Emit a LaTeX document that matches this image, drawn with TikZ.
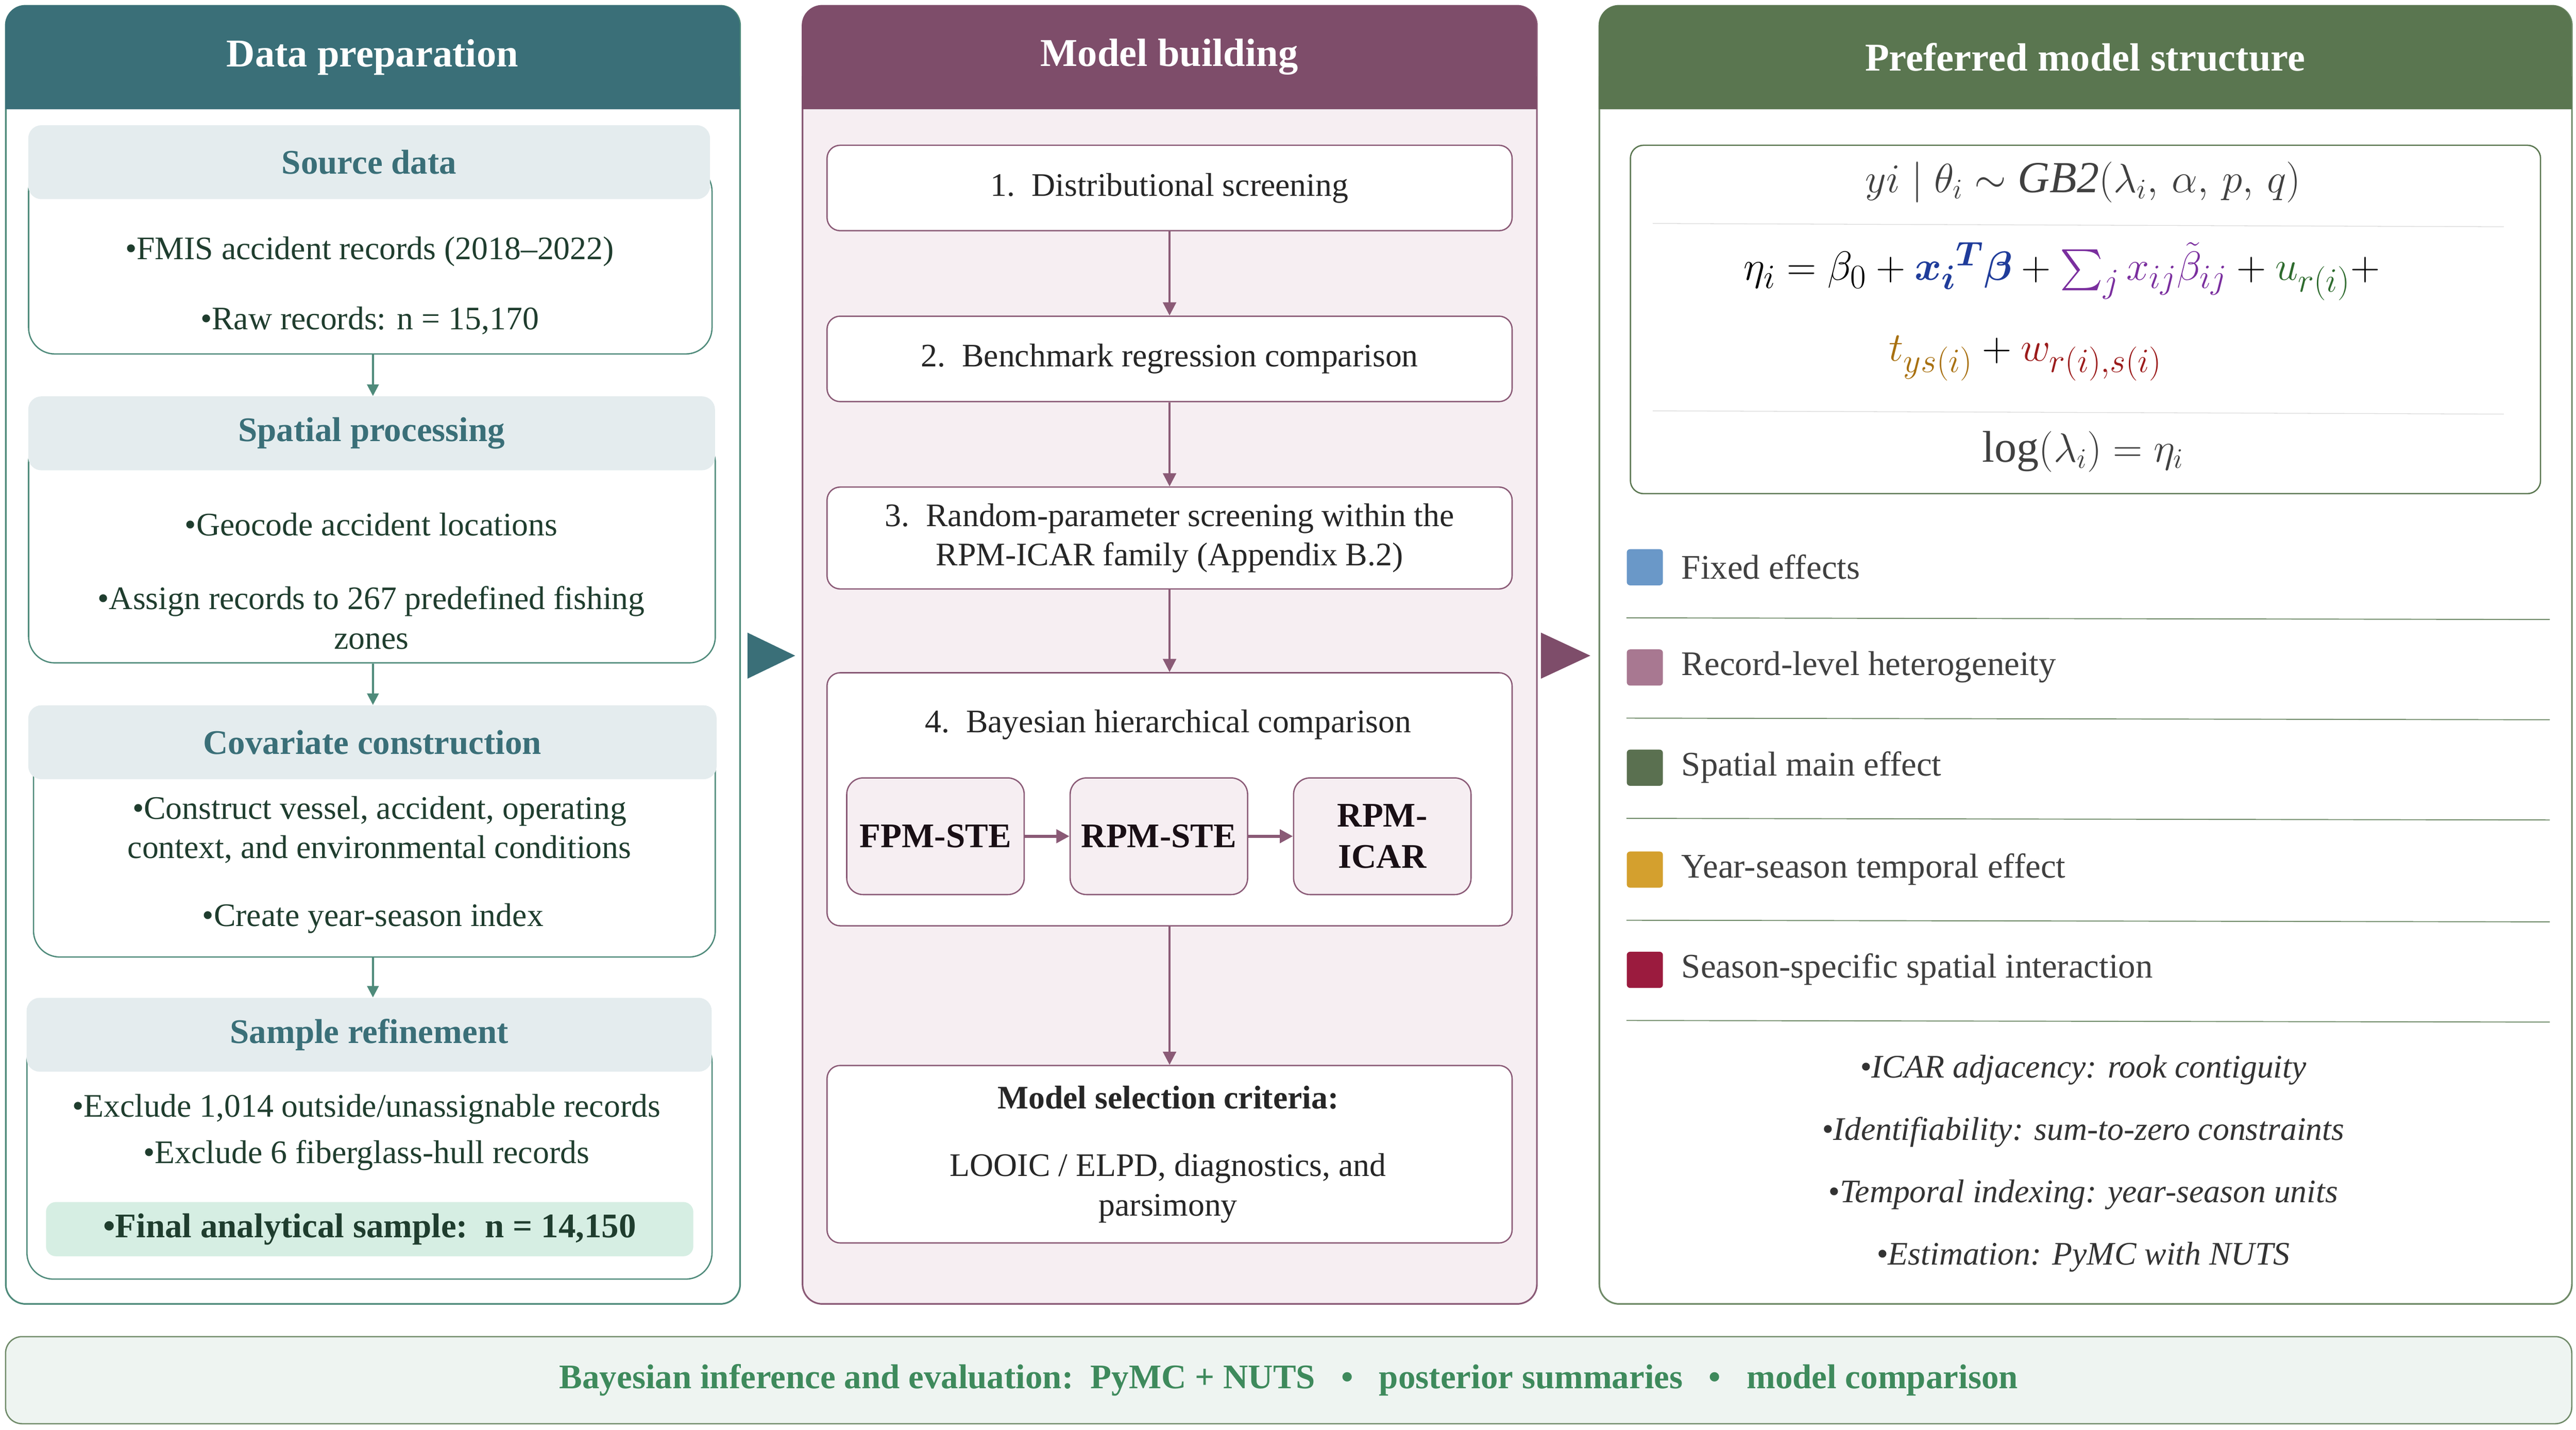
\documentclass[tikz,border=0pt]{standalone}
\usepackage{fontspec}
\setmainfont{Liberation Serif}
\usepackage{amsmath}
\usetikzlibrary{arrows.meta,positioning,calc}
\definecolor{tealhead}{HTML}{3A6F78}
\definecolor{tealline}{HTML}{4E8A7A}
\definecolor{tealband}{HTML}{E4ECEE}
\definecolor{plumhead}{HTML}{7E4D6A}
\definecolor{plumfill}{HTML}{F6EEF2}
\definecolor{plumline}{HTML}{8A5A76}
\definecolor{greenhead}{HTML}{5A7650}
\definecolor{greenline}{HTML}{6F8A68}
\definecolor{finalfill}{HTML}{D6EEE3}
\definecolor{darkgreen}{HTML}{1F3D2E}
\definecolor{bartext}{HTML}{3E8A5C}
\definecolor{barfill}{HTML}{EEF4F1}
\definecolor{fixc}{HTML}{6A98C8}
\definecolor{recc}{HTML}{A87891}
\definecolor{spac}{HTML}{5A7050}
\definecolor{yrc}{HTML}{D4A02E}
\definecolor{ssc}{HTML}{9B1B3E}
\definecolor{mblue}{HTML}{1F3C9A}
\definecolor{mpurple}{HTML}{7A2E9E}
\definecolor{mgreen}{HTML}{2E6B2E}
\definecolor{mbrown}{HTML}{A8700F}
\definecolor{mred}{HTML}{9B1B1B}
\newcommand{\fs}[1]{\fontsize{#1pt}{\dimexpr #1pt*6/5\relax}\selectfont}
\tikzset{
  panel/.style={draw=#1, line width=1pt, rounded corners=12pt, anchor=north west},
  head/.style={fill=#1, rounded corners=12pt, anchor=north west, text=white, font=\fs{24}\bfseries},
  band/.style={fill=tealband, rounded corners=8pt, anchor=north west, text=tealhead, font=\fs{21}\bfseries, minimum height=45pt},
  subbox/.style={draw=tealline, line width=0.8pt, rounded corners=16pt, anchor=north west},
  body/.style={font=\fs{20}, text=darkgreen, align=center},
  stepbox/.style={draw=plumline, fill=white, line width=0.8pt, rounded corners=8pt, anchor=north west, font=\fs{20}, align=center, text=black!85},
  modelbox/.style={draw=plumline, fill=plumfill, line width=0.8pt, rounded corners=10pt, minimum width=108pt, minimum height=71pt, anchor=north west, font=\fs{21}\bfseries, align=center, text=black!80!plumhead, inner sep=1pt},
  tealarrow/.style={-{Triangle[length=7pt,width=7pt]}, line width=1.2pt, draw=tealline},
  plumarrow/.style={-{Triangle[length=8pt,width=8pt]}, line width=1.2pt, draw=plumline},
  legsq/.style={rounded corners=2pt, minimum size=22pt, inner sep=0pt, anchor=north west, fill=#1},
  legtext/.style={anchor=west, font=\fs{21}, text=black!75},
  sep/.style={draw=greenline, line width=0.6pt},
  note/.style={font=\fs{20}\itshape, text=black!80}
}
\begin{document}
\begin{tikzpicture}[x=1pt, y=-1pt]
\useasboundingbox (0,0) rectangle (1568,870);

% panels
\node[panel=tealline, minimum width=447pt, minimum height=790pt] (dp) at (3,3) {};
\node[panel=plumline, fill=plumfill, minimum width=447pt, minimum height=790pt] (mb) at (488,3) {};
\node[panel=greenline, minimum width=592pt, minimum height=790pt] (pm) at (973,3) {};
\foreach \p/\c/\w/\t in {dp/tealhead/447/Data preparation, mb/plumhead/447/Model building, pm/greenhead/592/Preferred model structure}{
  \node[head=\c, minimum width=\w pt, minimum height=63pt] (\p h) at (\p.north west) {\t};
  \fill[\c] ($(\p h.south west)+(0,-20)$) rectangle (\p h.south east);
}

% data preparation
\node[subbox, minimum width=416pt, minimum height=115pt] (srcb) at (17,100) {};
\node[band, minimum width=415pt] (src) at (17,76) {Source data};
\node[body] (s1) at (225,153) {•FMIS accident records (2018–2022)};
\node[body] (s2) at (225,195) {•Raw records: n = 15,170};

\node[subbox, minimum width=418pt, minimum height=138pt] (spb) at (17,265) {};
\node[band, minimum width=418pt] (sp) at (17,241) {Spatial processing};
\node[body] (p1) at (226,319) {•Geocode accident locations};
\node[body] (p2) at (226,376) {•Assign records to 267 predefined fishing\\zones};

\node[subbox, minimum width=415pt, minimum height=131pt] (cvb) at (20,451) {};
\node[band, minimum width=419pt] (cv) at (17,429) {Covariate construction};
\node[body] (c1) at (231,505) {•Construct vessel, accident, operating\\context, and environmental conditions};
\node[body] (c2) at (227,559) {•Create year-season index};

\node[subbox, minimum width=417pt, minimum height=148pt] (srb) at (16,630) {};
\node[band, minimum width=417pt] (sr) at (16,607) {Sample refinement};
\node[body] (r1) at (223,675) {•Exclude 1,014 outside/unassignable records};
\node[body] (r2) at (223,703) {•Exclude 6 fiberglass-hull records};
\node[fill=finalfill, rounded corners=6pt, minimum width=394pt, minimum height=33pt, font=\fs{21}\bfseries, text=darkgreen] (fin) at (225,748) {•Final analytical sample:\ \ n = 14,150};

\draw[tealarrow] (srcb.south -| 227,0) -- (sp.north -| 227,0);
\draw[tealarrow] (spb.south -| 227,0) -- (cv.north -| 227,0);
\draw[tealarrow] (cvb.south -| 227,0) -- (sr.north -| 227,0);

% model building
\node[stepbox, minimum width=417pt, minimum height=52pt] (m1) at (503,88) {1.\ \ Distributional screening};
\node[stepbox, minimum width=417pt, minimum height=52pt] (m2) at (503,192) {2.\ \ Benchmark regression comparison};
\node[stepbox, minimum width=417pt, minimum height=62pt] (m3) at (503,296) {3.\ \ Random-parameter screening within the\\RPM-ICAR family (Appendix B.2)};
\node[stepbox, minimum width=417pt, minimum height=154pt] (m4) at (503,409) {};
\node[font=\fs{20}, text=black!85] (m4t) at (711,441) {4.\ \ Bayesian hierarchical comparison};
\node[modelbox] (fpm) at (515,473) {FPM-STE};
\node[modelbox] (rpm) at (651,473) {RPM-STE};
\node[modelbox] (icar) at (787,473) {RPM-\\ICAR};
\node[stepbox, minimum width=417pt, minimum height=108pt] (crit) at (503,648) {};
\node[font=\fs{20}\bfseries, text=black!85] (critt) at (711,668) {Model selection criteria:};
\node[font=\fs{20}, align=center, text=black!85] (critb) at (711,723) {LOOIC / ELPD, diagnostics, and\\parsimony};

\draw[plumarrow] (m1) -- (m2);
\draw[plumarrow] (m2) -- (m3);
\draw[plumarrow] (m3) -- (m4);
\draw[plumarrow] (m4) -- (crit);
\draw[plumarrow, line width=2pt] (fpm) -- (rpm);
\draw[plumarrow, line width=2pt] (rpm) -- (icar);

% triangles between panels
\fill[tealhead] (455,385) -- (484,399) -- (455,413) -- cycle;
\fill[plumhead] (938,385) -- (968,399) -- (938,413) -- cycle;

% preferred model structure
\node[draw=greenhead, line width=0.8pt, rounded corners=8pt, minimum width=554pt, minimum height=212pt, anchor=north west] (fbox) at (992,88) {};
\node[font=\fs{27}, text=black!75] (f1) at (1268,111) {$yi \mid \theta_i \sim \mathit{GB2}(\lambda_i,\, \alpha,\, p,\, q)$};
\draw[black!15] (1006,136) -- (1524,138);
\node[font=\fs{30}] (f2) at (1255,165) {$\eta_i = \beta_0 + \color{mblue}\boldsymbol{x_i{}^T\beta} \color{black}+ \color{mpurple}\sum_j x_{ij}\tilde\beta_{ij} \color{black}+ \color{mgreen}u_{r(i)} \color{black}+$};
\node[font=\fs{30}] (f3) at (1233,218) {$\color{mbrown}t_{ys(i)} \color{black}+ \color{mred}w_{r(i),s(i)}$};
\draw[black!15] (1006,250) -- (1524,252);
\node[font=\fs{27}, text=black!75] (f4) at (1268,275) {$\log(\lambda_i) = \eta_i$};

\foreach \c/\y/\t in {fixc/345/Fixed effects, recc/406/Record-level heterogeneity, spac/467/Spatial main effect, yrc/529/Year-season temporal effect, ssc/590/Season-specific spatial interaction}{
  \node[legsq=\c] (sq\c) at (990,\y-11) {};
  \node[legtext] (lt\c) at (1020,\y) {\t};
  \draw[sep] (990,\y+31) -- (1552,\y+32);
}
\node[note] (n1) at (1268,651) {•ICAR adjacency: rook contiguity};
\node[note] (n2) at (1268,689) {•Identifiability: sum-to-zero constraints};
\node[note] (n3) at (1268,727) {•Temporal indexing: year-season units};
\node[note] (n4) at (1268,765) {•Estimation: PyMC with NUTS};

% bottom bar
\node[draw=greenline, fill=barfill, line width=0.8pt, rounded corners=10pt, minimum width=1562pt, minimum height=53pt, anchor=north west, font=\fs{21}\bfseries, text=bartext] (bar) at (3,813) {Bayesian inference and evaluation:\ \ PyMC + NUTS\ \ \ •\ \ \ posterior summaries\ \ \ •\ \ \ model comparison};
\end{tikzpicture}
\end{document}
